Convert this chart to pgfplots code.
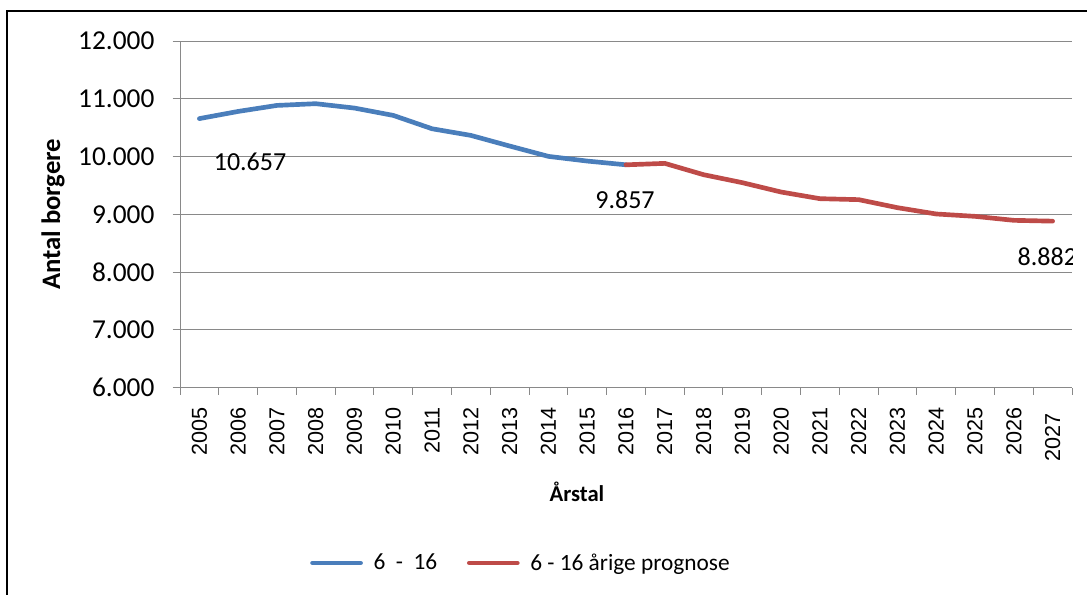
\documentclass[border=0pt]{standalone}
\usepackage{pgfplots}
\pgfplotsset{compat=1.18}
\usepackage{fontspec}
\setmainfont{Carlito}
\newfontfamily\arialfont{Liberation Sans}
\definecolor{serA}{HTML}{4A7EBB}
\definecolor{serB}{HTML}{BE4B48}
\definecolor{gridc}{HTML}{898989}
\begin{document}
\begin{tikzpicture}
\useasboundingbox (0,0) rectangle (815.25pt,446.25pt);
\draw[line width=1.5pt] (5.25pt,-3pt) -- (5.25pt,438pt) -- (820pt,438pt);
\begin{axis}[
  at={(135pt,155.5pt)}, anchor=south west,
  scale only axis, width=669pt, height=260pt,
  xmin=-0.5, xmax=22.5, ymin=6000, ymax=12000,
  axis x line*=bottom, axis y line*=left,
  axis line style={gridc, line width=0.75pt, -},
  scaled y ticks=false,
  xtick={-0.5,0.5,...,22.5},
  xticklabels={},
  extra x ticks={0,...,22},
  extra x tick labels={2005,2006,2007,2008,2009,2010,2011,2012,2013,2014,2015,2016,2017,2018,2019,2020,2021,2022,2023,2024,2025,2026,2027\hspace*{5pt}},
  extra x tick style={major tick length=0pt,
    xticklabel style={font=\arialfont\fontsize{16.2pt}{19pt}\selectfont, inner sep=0pt, yshift=-14.5pt, rotate=90, anchor=east}},
  ytick={6000,7000,...,12000},
  yticklabels={6.000,7.000,8.000,9.000,10.000,11.000,12.000},
  tick align=outside,
  major tick length=5.5pt,
  every tick/.append style={gridc, line width=0.75pt},
  ymajorgrids,
  major grid style={gridc, line width=0.75pt},
  yticklabel style={font=\fontsize{20.5pt}{24pt}\selectfont, inner sep=0pt, anchor=east, xshift=-13.5pt},
  xlabel={Årstal},
  ylabel={Antal borgere},
  xlabel style={font=\bfseries\fontsize{17pt}{21pt}\selectfont, at={(axis description cs:0.445,-0.301)}, anchor=center},
  ylabel style={font=\bfseries\fontsize{20pt}{24pt}\selectfont, at={(axis description cs:-0.1424,0.5)}, anchor=center},
  legend columns=2,
  legend style={draw=none, fill=none, inner sep=0pt, font=\fontsize{17.5pt}{21pt}\selectfont,
    at={(axis description cs:0.1457,-0.5056)}, anchor=west,
    /tikz/every odd column/.append style={column sep=6pt},
    /tikz/every even column/.append style={column sep=20.25pt}},
  legend image code/.code={\draw[#1] (0pt,0pt) -- (36pt,0pt);},
]
\addplot[serA, line width=3.5pt, line join=round, line cap=round] coordinates {
(0,10657) (1,10781) (2,10885) (3,10915) (4,10839) (5,10712) (6,10481) (7,10366) (8,10182) (9,10003) (10,9922) (11,9857)
};
\addlegendentry{6\ \ -\ \ 16}
\addplot[serB, line width=3.5pt, line join=round, line cap=round] coordinates {
(11,9857) (12,9882) (13,9686) (14,9548) (15,9386) (16,9271) (17,9254) (18,9115) (19,9006) (20,8965) (21,8896) (22,8882)
};
\addlegendentry{6 - 16 årige prognose}
\node[font=\fontsize{19.5pt}{23pt}\selectfont, xshift=38pt, yshift=-32.3pt] at (axis cs:0,10657) {10.657};
\node[font=\fontsize{19.5pt}{23pt}\selectfont, xshift=-0.75pt, yshift=-26.3pt] at (axis cs:11,9857) {9.857};
\node[font=\fontsize{19.5pt}{23pt}\selectfont, xshift=-4pt, yshift=-27pt] at (axis cs:22,8882) {8.882};
\end{axis}
\end{tikzpicture}
\end{document}
